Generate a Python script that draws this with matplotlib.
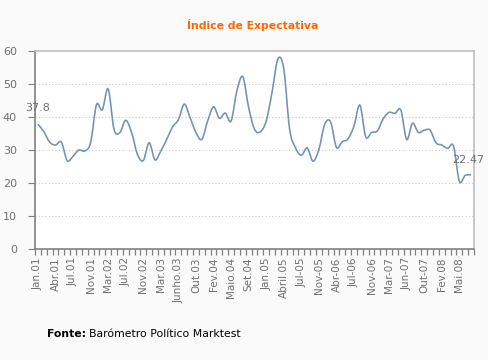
import matplotlib
matplotlib.use("Agg")
import matplotlib.pyplot as plt
from matplotlib.path import Path
from matplotlib.patches import PathPatch
import numpy as np

values = [37.8, 35.6, 32.4, 31.5, 32.4, 26.8, 28.1, 30.0, 29.7, 32.2,
          43.7, 42.2, 48.5, 36.3, 35.3, 39.0, 35.3, 28.7, 26.8, 32.2,
          27.0, 29.7, 33.2, 37.0, 39.2, 43.9, 39.8, 35.3, 33.2, 38.8,
          43.1, 39.6, 41.2, 38.8, 48.0, 52.2, 42.9, 36.3, 35.5, 38.8,
          47.5, 57.6, 54.6, 36.3, 30.7, 28.4, 30.6, 26.6, 30.2, 37.8,
          38.5, 30.8, 32.5, 33.4, 37.3, 43.6, 34.0, 35.3, 35.8, 39.5,
          41.4, 41.1, 42.1, 33.2, 38.1, 35.3, 36.0, 36.0, 32.2, 31.5,
          30.5, 31.2, 20.5, 22.3, 22.47]
tick_labels = ["Jan.01", "Abr.01", "Jul.01", "Nov.01", "Mar.02", "Jul.02", "Nov.02",
               "Mar.03", "Junho.03", "Out.03", "Fev.04", "Maio.04", "Set.04", "Jan.05",
               "Abril.05", "Jul-05", "Nov-05", "Abr-06", "Jul-06", "Nov-06", "Mar-07",
               "Jun-07", "Out-07", "Fev.08", "Mai.08"]
first_label = "37.8"
last_label = "22.47"
title = "Índice de Expectativa"

x = np.arange(len(values))
y = np.array(values, dtype=float)

fig = plt.figure(figsize=(4.89, 3.60), dpi=100, facecolor="#FAFAFA")
ax = fig.add_axes([35/489, 1-249/360, 439/489, 198/360])
ax.set_facecolor("white")

# smooth curve via Catmull-Rom -> cubic Bezier path
verts = [(x[0], y[0])]
codes = [Path.MOVETO]
n = len(x)
for i in range(n - 1):
    p0 = (x[i-1], y[i-1]) if i > 0 else (x[i], y[i])
    p1 = (x[i], y[i])
    p2 = (x[i+1], y[i+1])
    p3 = (x[i+2], y[i+2]) if i + 2 < n else (x[i+1], y[i+1])
    t = 1/6
    c1 = (p1[0] + (p2[0]-p0[0])*t, p1[1] + (p2[1]-p0[1])*t)
    c2 = (p2[0] - (p3[0]-p1[0])*t, p2[1] - (p3[1]-p1[1])*t)
    verts += [c1, c2, p2]
    codes += [Path.CURVE4]*3
ax.add_patch(PathPatch(Path(verts, codes), facecolor="none", edgecolor="#7391B5", lw=1.15, zorder=3))

ax.set_xlim(-0.5, n - 0.5)
ax.set_ylim(0, 60)
ax.set_yticks(range(0, 61, 10))
for g in range(10, 60, 10):
    ax.axhline(g, color="#C8C8C8", lw=0.8, ls=(0, (1, 2)), zorder=1)

ax.set_xticks(np.arange(0, 3*len(tick_labels), 3))
ax.set_xticklabels(tick_labels, rotation=90, fontsize=7.5, color="#707070", family="DejaVu Sans")
ax.set_xticks(np.arange(-0.5, n, 1), minor=True)
ax.tick_params(axis="x", which="major", length=0, pad=6)
ax.tick_params(axis="x", which="minor", length=4, color="#808080", width=0.9)
ax.tick_params(axis="y", length=5, color="#808080", labelsize=8, labelcolor="#707070", pad=8)

for s in ["left", "bottom"]:
    ax.spines[s].set_color("#808080")
    ax.spines[s].set_linewidth(1.2)
for s in ["top", "right"]:
    ax.spines[s].set_color("#BDBDBD")
    ax.spines[s].set_linewidth(1.2)

ax.annotate(first_label, (x[0], y[0]), xytext=(0, 8), textcoords="offset points",
            ha="center", va="bottom", fontsize=8, color="#707070", annotation_clip=False)
ax.annotate(last_label, (x[-1], y[-1]), xytext=(-2, 7), textcoords="offset points",
            ha="center", va="bottom", fontsize=8, color="#707070", annotation_clip=False)

fig.text(253/489, 1-25/360, title, ha="center", va="center", fontsize=7.8,
         fontweight="bold", color="#FF6600")
t1 = fig.text(47/489, 1-334/360, "Fonte:", ha="left", va="center", fontsize=7.8,
              fontweight="bold", color="black")
fig.canvas.draw()
bb = t1.get_window_extent()
fig.text(bb.x1/489 + 3/489, 1-334/360, "Barómetro Político Marktest", ha="left",
         va="center", fontsize=7.8, color="black")

fig.savefig("out.png", dpi=100, facecolor=fig.get_facecolor())
